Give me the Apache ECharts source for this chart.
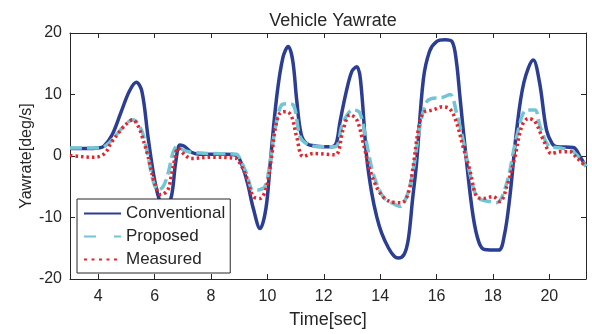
<!DOCTYPE html>
<html lang="en">
<head>
    <meta charset="utf-8">
    <title>Vehicle Yawrate</title>
    <script src="https://cdn.jsdelivr.net/npm/echarts@6/dist/echarts.min.js"></script>
</head>
<body style="margin:0;background:#fff;">

    <div id="main" style="width:592px;height:334px;"></div>

<script type="text/javascript">

    // time axis ticks
    var xTicks = [4, 6, 8, 10, 12, 14, 16, 18, 20];
    var yTicks = [-20, -10, 0, 10, 20];

    // Conventional
    var convT = [3.0, 3.6, 4.0, 4.2, 4.5, 4.8, 5.1, 5.35, 5.55, 5.77, 6.0, 6.2, 6.4, 6.6, 6.75, 6.9, 7.05, 7.3, 7.6, 8.5, 8.9,
        9.1, 9.3, 9.5, 9.74, 9.95, 10.1, 10.33, 10.55, 10.74, 10.9, 11.04, 11.2, 11.4, 11.75, 12.3, 12.45, 12.57, 12.8, 13.0,
        13.17, 13.3, 13.52, 13.7, 13.88, 14.05, 14.3, 14.5, 14.64, 14.85, 15.0, 15.15, 15.29, 15.53, 15.75, 16.0, 16.3, 16.55, 16.7,
        16.83, 17.07, 17.3, 17.5, 17.7, 18.2, 18.4, 18.6, 18.84, 19.1, 19.43, 19.65, 19.9, 20.1, 20.26, 20.85, 21.1, 21.3];
    var convV = [1.2, 1.2, 1.3, 1.6, 3.5, 7.0, 10.5, 12.0, 10.5, 3.0, -3.9, -7.5, -8.5, -6.5, -1.0, 1.8, 1.6, 0.6, 0.3, 0.3, 0.1,
        -1.5, -4.5, -8.5, -11.8, -8.5, -1.2, 9.6, 16.0, 17.8, 15.5, 9.1, 3.5, 2.0, 1.6, 1.5, 2.2, 5.4, 10.5, 13.8,
        14.5, 12.5, -0.1, -6.0, -9.9, -12.5, -15.0, -16.3, -16.6, -16.0, -13.5, -7.0, -1.2, 12.4, 17.0, 18.6, 18.9, 18.6, 15.5,
        9.6, -1.2, -9.9, -14.0, -15.2, -15.3, -13.0, -6.6, 4.2, 12.0, 15.6, 12.0, 4.2, 2.0, 1.5, 1.4, -0.2, -1.7];

    // Proposed
    var propT = [3.0, 4.0, 4.2, 4.4, 4.58, 4.9, 5.23, 5.45, 5.65, 5.94, 6.12, 6.3, 6.48, 6.65, 6.8, 7.0, 7.3, 8.0, 8.9,
        9.03, 9.26, 9.5, 9.7, 9.91, 10.09, 10.27, 10.5, 10.7, 10.92, 11.16, 11.39, 11.8, 12.4, 12.68, 13.04, 13.28, 13.52,
        13.75, 14.1, 14.4, 14.7, 14.94, 15.17, 15.41, 15.65, 15.88, 16.2, 16.48, 16.71, 16.94, 17.18, 17.42, 17.65, 17.89,
        18.13, 18.49, 18.84, 19.2, 19.49, 19.67, 20.02, 20.38, 20.84, 21.3];
    var propV = [1.3, 1.3, 1.5, 2.2, 3.1, 4.8, 5.9, 5.0, 2.6, -3.9, -5.5, -5.0, -2.8, 0.5, 1.6, 1.0, 0.6, 0.4, 0.3,
        -0.5, -2.8, -5.6, -5.5, -5.0, -1.2, 4.2, 8.3, 8.5, 8.3, 3.1, 2.0, 1.5, 1.5, 5.4, 7.5, 7.0, 2.1,
        -2.8, -6.6, -7.6, -8.2, -6.6, -2.3, 4.8, 8.8, 9.4, 9.5, 10.0, 7.0, 2.6, -2.8, -6.6, -7.2, -7.4,
        -7.6, -4.4, 3.1, 7.5, 7.5, 4.8, 1.5, 1.3, 0.7, -1.7];

    // Measured
    var measT = [3.0, 3.4, 3.8, 4.1, 4.3, 4.45, 4.8, 5.0, 5.23, 5.4, 5.52, 5.77, 6.0, 6.23, 6.47, 6.6, 6.71, 6.83, 7.07, 7.3,
        8.0, 8.9, 9.03, 9.26, 9.5, 9.74, 9.97, 10.15, 10.27, 10.45, 10.68, 10.86, 11.04, 11.27, 11.63, 12.4, 12.68, 12.93,
        13.17, 13.4, 13.64, 13.99, 14.35, 14.76, 15.0, 15.17, 15.35, 15.53, 15.88, 16.2, 16.48, 16.71, 16.94, 17.18, 17.42,
        17.66, 18.0, 18.25, 18.49, 18.78, 19.02, 19.26, 19.49, 19.79, 20.08, 20.38, 20.73, 20.97, 21.3];
    var measV = [0.1, -0.1, -0.2, 0.0, 0.8, 2.1, 4.2, 5.2, 5.9, 5.0, 3.7, -0.1, -4.4, -6.3, -5.5, -3.0, -0.6, 1.3, 0.2, -0.4,
        -0.2, -0.4, -1.2, -3.4, -6.6, -6.9, -5.0, -0.1, 4.2, 7.0, 7.2, 6.4, 3.1, -0.1, 0.4, 0.2, 4.2, 6.7,
        5.9, 2.1, -2.3, -6.0, -7.4, -7.6, -6.0, -1.7, 4.2, 7.0, 7.5, 8.0, 7.6, 5.4, 1.5, -2.3, -6.6,
        -6.9, -6.6, -7.4, -5.0, -0.1, 4.8, 6.1, 5.6, 2.6, 0.4, 0.7, 0.7, -0.3, -1.7];

    function pairs(t, v) {
        var out = [];
        for (var i = 0; i < t.length; i++) {
            out.push([t[i], v[i]]);
        }
        return out;
    }

    var font = "'Liberation Sans', Arial, sans-serif";
    var ink = '#262626';

    var myChart = echarts.init(document.getElementById('main'));

    var option = {
        animation: false,
        backgroundColor: '#ffffff',
        title: {
            text: 'Vehicle Yawrate',
            left: 328,
            top: 7,
            textAlign: 'center',
            textStyle: {color: ink, fontSize: 18, fontWeight: 'normal', fontFamily: font}
        },
        grid: {left: 70, right: 6, top: 33, bottom: 55, containLabel: false, outerBoundsMode: 'none'},
        legend: {
            orient: 'vertical',
            left: 77,
            top: 199,
            padding: [6, 5, 5, 6],
            itemWidth: 37,
            itemHeight: 14,
            itemGap: 6,
            borderColor: ink,
            borderWidth: 1,
            borderRadius: 0,
            backgroundColor: '#ffffff',
            // hide the marker dot, keep only the line sample
            itemStyle: {color: 'transparent', borderWidth: 0},
            textStyle: {color: ink, fontSize: 17, lineHeight: 17, fontFamily: font},
            data: [
                {name: 'Conventional'},
                {name: 'Proposed', lineStyle: {type: [12, 18]}},
                {name: 'Measured', lineStyle: {type: [3, 4.5]}}
            ]
        },
        xAxis: [{
            type: 'value',
            min: 3,
            max: 21.3,
            name: 'Time[sec]',
            nameLocation: 'middle',
            nameGap: 32,
            nameMoveOverlap: false,
            nameTextStyle: {color: ink, fontSize: 18, fontFamily: font},
            axisLine: {onZero: false, lineStyle: {color: ink, width: 1}},
            axisTick: {inside: true, length: 5, lineStyle: {color: ink}, customValues: xTicks},
            axisLabel: {color: ink, fontSize: 16, fontFamily: font, margin: 10, customValues: xTicks},
            splitLine: {show: false}
        }, {
            type: 'value',
            position: 'top',
            min: 3,
            max: 21.3,
            axisLine: {onZero: false, lineStyle: {color: ink, width: 1}},
            axisTick: {inside: true, length: 5, lineStyle: {color: ink}, customValues: xTicks},
            axisLabel: {show: false},
            splitLine: {show: false}
        }],
        yAxis: [{
            type: 'value',
            min: -20,
            max: 20,
            interval: 10,
            name: 'Yawrate[deg/s]',
            nameLocation: 'middle',
            nameGap: 35,
            nameMoveOverlap: false,
            nameTextStyle: {color: ink, fontSize: 16, fontFamily: font},
            axisLine: {show: true, onZero: false, lineStyle: {color: ink, width: 1}},
            axisTick: {show: true, inside: true, length: 5, lineStyle: {color: ink}},
            axisLabel: {color: ink, fontSize: 16, fontFamily: font, margin: 8},
            splitLine: {show: false}
        }, {
            type: 'value',
            position: 'right',
            min: -20,
            max: 20,
            interval: 10,
            axisLine: {show: true, onZero: false, lineStyle: {color: ink, width: 1}},
            axisTick: {show: true, inside: true, length: 5, lineStyle: {color: ink}},
            axisLabel: {show: false},
            splitLine: {show: false}
        }],
        series: [{
            name: 'Conventional',
            type: 'line',
            symbol: 'none',
            smooth: 0.35,
            color: '#2c3e94',
            lineStyle: {color: '#2c3e94', width: 3.5},
            data: pairs(convT, convV),
            z: 2
        }, {
            name: 'Proposed',
            type: 'line',
            symbol: 'none',
            smooth: 0.35,
            color: '#72c6d4',
            lineStyle: {color: '#72c6d4', width: 3.5, type: [12, 5]},
            data: pairs(propT, propV),
            z: 3
        }, {
            name: 'Measured',
            type: 'line',
            symbol: 'none',
            smooth: 0.35,
            color: '#e3262d',
            lineStyle: {color: '#e3262d', width: 3.5, type: [2.5, 3]},
            data: pairs(measT, measV),
            z: 4
        }]
    };

    myChart.setOption(option);

</script>

</body>
</html>
